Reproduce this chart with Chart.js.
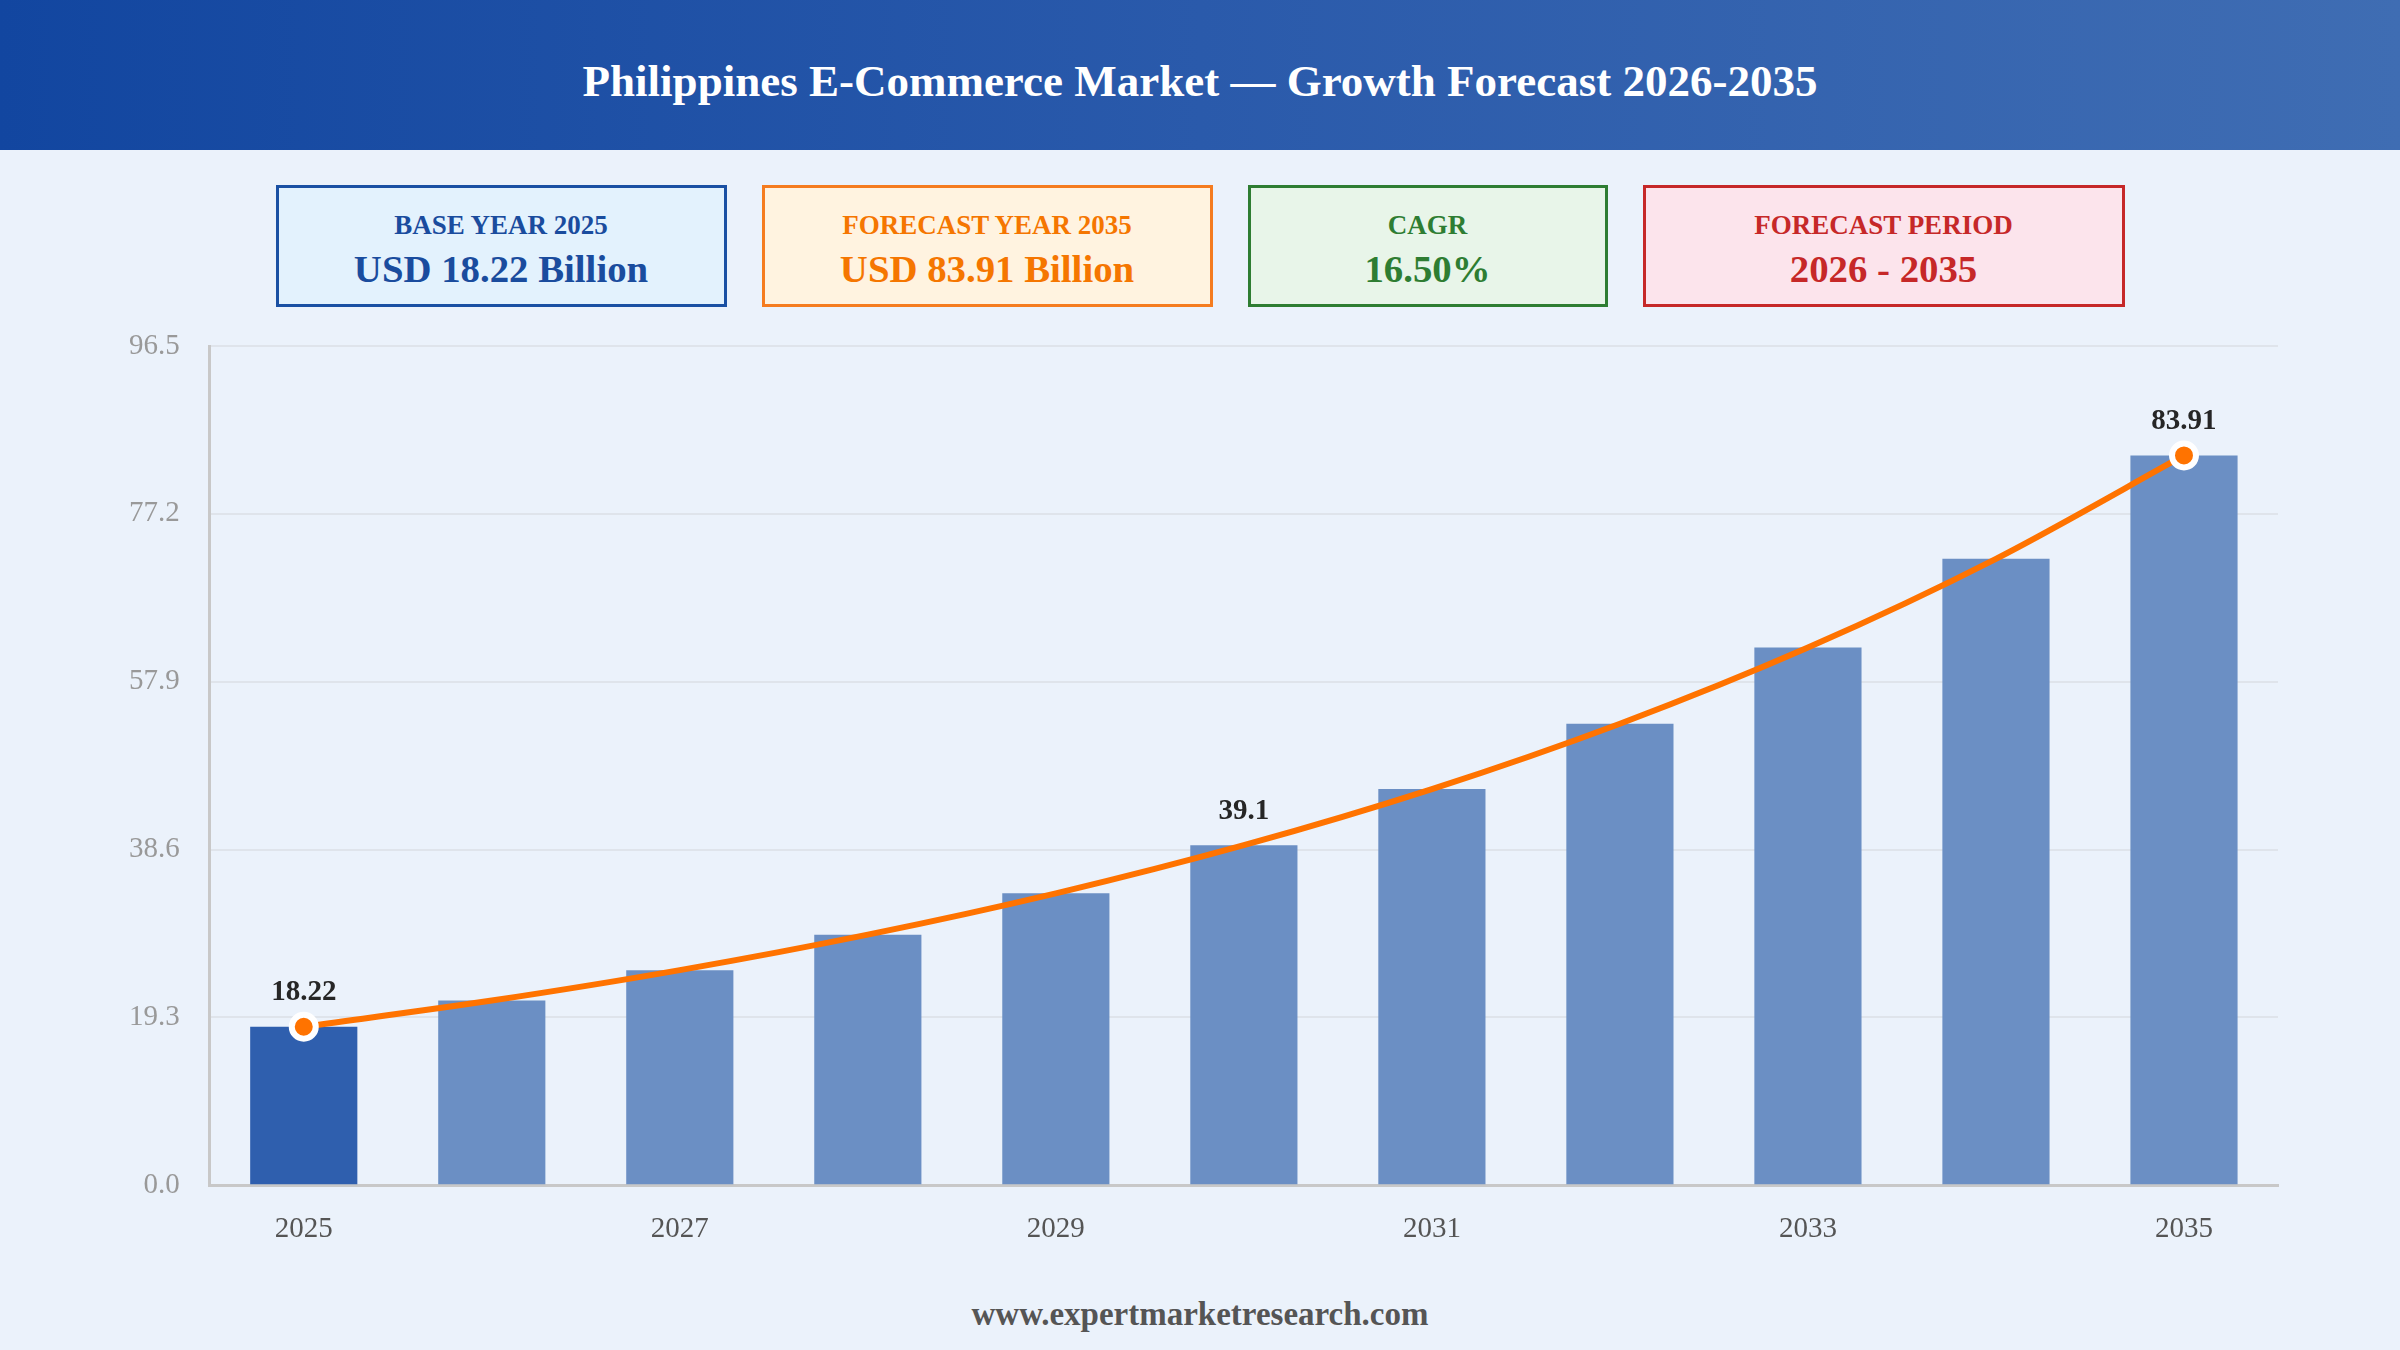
<!DOCTYPE html>
<html>
<head>
<meta charset="utf-8">
<title>Philippines E-Commerce Market</title>
<script src="https://cdn.jsdelivr.net/npm/chart.js@4.4.1/dist/chart.umd.min.js"></script>
<style>
  html, body { margin: 0; padding: 0; }
  body {
    width: 2400px; height: 1350px; overflow: hidden; position: relative;
    background: #ebf2fb;
    font-family: 'Liberation Serif', 'Times New Roman', serif;
  }
  .header {
    position: absolute; left: 0; top: 0; width: 2400px; height: 150px;
    background: linear-gradient(90deg, #1246a0 0%, #2a5aab 50%, #3f6db3 100%);
  }
  .header h1 {
    margin: 0; position: absolute; left: 0; top: 6px; width: 100%;
    line-height: 150px; text-align: center;
    color: #fff; font-size: 45px; font-weight: bold;
  }
  .kpis {
    position: absolute; left: 0; top: 185px; width: 2400px;
    display: flex; justify-content: center; gap: 35px;
  }
  .kpi {
    box-sizing: border-box; height: 122px; border: 3px solid;
    padding-top: 21px; text-align: center; font-weight: bold;
  }
  .kpi .lbl { font-size: 27px; line-height: 32px; }
  .kpi .val { font-size: 38.8px; line-height: 46px; margin-top: 5px; }
  .k1 { width: 451px; background: #e3f2fd; border-color: #1a50a3; color: #1a4c9e; }
  .k2 { width: 451px; background: #fff3e0; border-color: #f57c1f; color: #f57600; }
  .k3 { width: 360px; background: #e8f5e9; border-color: #2e7d32; color: #2e7d32; }
  .k4 { width: 482px; background: #fce4ec; border-color: #c62828; color: #c62828; }
  .chartbox { position: absolute; left: 0; top: 290px; width: 2400px; height: 990px; }
  .footer {
    position: absolute; left: 0; top: 1294px; width: 2400px; text-align: center;
    font-size: 33px; line-height: 40px; font-weight: bold; color: #555;
  }
</style>
</head>
<body>
<div class="header"><h1>Philippines E-Commerce Market — Growth Forecast 2026-2035</h1></div>

<div class="kpis">
  <div class="kpi k1"><div class="lbl">BASE YEAR 2025</div><div class="val">USD 18.22 Billion</div></div>
  <div class="kpi k2"><div class="lbl">FORECAST YEAR 2035</div><div class="val">USD 83.91 Billion</div></div>
  <div class="kpi k3"><div class="lbl">CAGR</div><div class="val">16.50%</div></div>
  <div class="kpi k4"><div class="lbl">FORECAST PERIOD</div><div class="val">2026 - 2035</div></div>
</div>

<div class="chartbox"><canvas id="chart" width="2400" height="990"></canvas></div>

<div class="footer">www.expertmarketresearch.com</div>

<script>
// market size, USD billion
const years = ['2025', '2026', '2027', '2028', '2029', '2030', '2031', '2032', '2033', '2034', '2035'];
const marketSize = [18.22, 21.23, 24.73, 28.81, 33.56, 39.1, 45.55, 53.07, 61.83, 72.03, 83.91];
const shownYears = ['2025', '2027', '2029', '2031', '2033', '2035'];
const yTicks = [0, 19.3, 38.6, 57.9, 77.2, 96.5];
const labelledYears = ['2025', '2030', '2035'];
const markedYears = ['2025', '2035'];

const FONT = "'Liberation Serif', 'Times New Roman', serif";
Chart.defaults.font.family = FONT;

const barColors = years.map((y, i) => i === 0 ? '#2f5fae' : '#6b8fc4');
const pointRadii = years.map(y => markedYears.includes(y) ? 12 : 0);

// draws the value above selected line points
const valueLabels = {
  id: 'valueLabels',
  afterDatasetsDraw(chart) {
    const ctx = chart.ctx;
    const meta = chart.getDatasetMeta(1);
    ctx.save();
    ctx.font = 'bold 29px ' + FONT;
    ctx.fillStyle = '#262626';
    ctx.textAlign = 'center';
    ctx.textBaseline = 'middle';
    meta.data.forEach((pt, i) => {
      if (!labelledYears.includes(years[i])) return;
      ctx.fillText(String(marketSize[i]), pt.x, pt.y - 34);
    });
    ctx.restore();
  }
};

new Chart(document.getElementById('chart'), {
  data: {
    labels: years,
    datasets: [
      {
        type: 'bar',
        data: marketSize,
        backgroundColor: barColors,
        barPercentage: 0.57,
        categoryPercentage: 1.0,
        order: 2
      },
      {
        type: 'line',
        data: marketSize,
        borderColor: '#ff7300',
        borderWidth: 6,
        tension: 0.3,
        fill: false,
        pointRadius: pointRadii,
        pointBackgroundColor: '#ff7300',
        pointBorderColor: '#ffffff',
        pointBorderWidth: 6,
        order: 1
      }
    ]
  },
  options: {
    responsive: false,
    animation: false,
    devicePixelRatio: 1,
    layout: { padding: { left: 99, right: 122, top: 56, bottom: 6 } },
    plugins: { legend: { display: false }, tooltip: { enabled: false } },
    scales: {
      x: {
        grid: { display: false, drawTicks: false },
        border: { display: true, color: '#c8c8c8', width: 3 },
        ticks: {
          autoSkip: false,
          maxRotation: 0,
          padding: 27,
          color: '#555555',
          font: { size: 29 },
          callback: (v, i) => shownYears.includes(years[i]) ? years[i] : ''
        }
      },
      y: {
        min: 0,
        max: 96.5,
        afterBuildTicks: axis => { axis.ticks = yTicks.map(v => ({ value: v })); },
        grid: { color: '#dfe4eb', lineWidth: 2, drawTicks: false },
        border: { display: true, color: '#c8c8c8', width: 3 },
        ticks: {
          padding: 30,
          color: '#999999',
          font: { size: 29 },
          callback: v => v.toFixed(1)
        }
      }
    }
  },
  plugins: [valueLabels]
});
</script>
</body>
</html>
